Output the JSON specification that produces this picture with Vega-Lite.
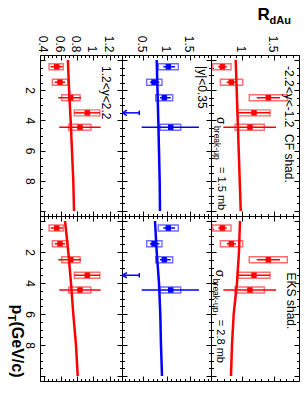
{
"$schema": "https://vega.github.io/schema/vega-lite/v6.json",
"background": "white",
"padding": {"left": 5, "top": 5, "right": 0, "bottom": 0},
"bounds": "flush",
"spacing": 0,
"align": "each",
"columns": 3,
"config": {
 "font": "Liberation Sans",
 "view": {"stroke": null},
 "axis": {"grid": false, "domainColor": "black", "domainWidth": 1, "tickColor": "black", "tickWidth": 1, "labelColor": "black", "labelFont": "Liberation Sans", "labelFontSize": 12, "labelOverlap": false, "labelFlush": false, "labelBound": false, "titleColor": "black", "titleFont": "Liberation Sans"},
 "text": {"font": "Liberation Sans", "color": "black"}
},
"datasets": {
 "pts": [
  {"rap": "fwd", "pT": 0.45, "R": 0.554, "statLo": 0.48, "statHi": 0.627, "sysLo": 0.46, "sysHi": 0.634},
  {"rap": "fwd", "pT": 1.47, "R": 0.594, "statLo": 0.53, "statHi": 0.655, "sysLo": 0.50, "sysHi": 0.688},
  {"rap": "fwd", "pT": 2.5, "R": 0.724, "statLo": 0.573, "statHi": 0.85, "sysLo": 0.615, "sysHi": 0.838},
  {"rap": "fwd", "pT": 3.5, "R": 0.927, "statLo": 0.77, "statHi": 1.08, "sysLo": 0.768, "sysHi": 1.08},
  {"rap": "fwd", "pT": 4.45, "R": 0.838, "statLo": 0.585, "statHi": 1.09, "sysLo": 0.70, "sysHi": 0.97},
  {"rap": "mid", "pT": 0.45, "R": 1.039, "statLo": 0.931, "statHi": 1.183, "sysLo": 0.823, "sysHi": 1.255},
  {"rap": "mid", "pT": 1.47, "R": 0.73, "statLo": 0.644, "statHi": 0.845, "sysLo": 0.573, "sysHi": 0.903},
  {"rap": "mid", "pT": 2.5, "R": 0.953, "statLo": 0.86, "statHi": 1.09, "sysLo": 0.767, "sysHi": 1.134},
  {"rap": "mid", "pT": 4.45, "R": 1.091, "statLo": 0.465, "statHi": 1.70, "sysLo": 0.86, "sysHi": 1.306},
  {"rap": "bwd", "pT": 0.45, "R": 0.68, "statLo": 0.616, "statHi": 0.75, "sysLo": 0.527, "sysHi": 0.818},
  {"rap": "bwd", "pT": 1.47, "R": 0.823, "statLo": 0.75, "statHi": 0.898, "sysLo": 0.648, "sysHi": 1.004},
  {"rap": "bwd", "pT": 2.5, "R": 1.412, "statLo": 1.227, "statHi": 1.598, "sysLo": 1.109, "sysHi": 1.714},
  {"rap": "bwd", "pT": 3.5, "R": 1.184, "statLo": 0.92, "statHi": 1.44, "sysLo": 0.918, "sysHi": 1.439},
  {"rap": "bwd", "pT": 4.45, "R": 1.12, "statLo": 0.696, "statHi": 1.534, "sysLo": 0.882, "sysHi": 1.348}
 ],
 "limits": [
  {"rap": "mid", "pT": 3.5, "ul": 0.413, "tip": 0.05}
 ],
 "curves": [
  {"rap": "fwd", "model": "CF", "pT": 0, "R": 0.69},
  {"rap": "fwd", "model": "CF", "pT": 2, "R": 0.705},
  {"rap": "fwd", "model": "CF", "pT": 4, "R": 0.724},
  {"rap": "fwd", "model": "CF", "pT": 6, "R": 0.74},
  {"rap": "fwd", "model": "CF", "pT": 8, "R": 0.756},
  {"rap": "fwd", "model": "CF", "pT": 10, "R": 0.765},
  {"rap": "fwd", "model": "EKS", "pT": 0, "R": 0.655},
  {"rap": "fwd", "model": "EKS", "pT": 2, "R": 0.695},
  {"rap": "fwd", "model": "EKS", "pT": 4, "R": 0.728},
  {"rap": "fwd", "model": "EKS", "pT": 6, "R": 0.756},
  {"rap": "fwd", "model": "EKS", "pT": 8, "R": 0.789},
  {"rap": "fwd", "model": "EKS", "pT": 10, "R": 0.81},
  {"rap": "mid", "model": "CF", "pT": 0, "R": 0.789},
  {"rap": "mid", "model": "CF", "pT": 2, "R": 0.806},
  {"rap": "mid", "model": "CF", "pT": 4, "R": 0.823},
  {"rap": "mid", "model": "CF", "pT": 6, "R": 0.838},
  {"rap": "mid", "model": "CF", "pT": 8, "R": 0.853},
  {"rap": "mid", "model": "CF", "pT": 10, "R": 0.86},
  {"rap": "mid", "model": "EKS", "pT": 0, "R": 0.752},
  {"rap": "mid", "model": "EKS", "pT": 2, "R": 0.789},
  {"rap": "mid", "model": "EKS", "pT": 4, "R": 0.838},
  {"rap": "mid", "model": "EKS", "pT": 6, "R": 0.866},
  {"rap": "mid", "model": "EKS", "pT": 8, "R": 0.881},
  {"rap": "mid", "model": "EKS", "pT": 10, "R": 0.903},
  {"rap": "bwd", "model": "CF", "pT": 0, "R": 0.893},
  {"rap": "bwd", "model": "CF", "pT": 2, "R": 0.909},
  {"rap": "bwd", "model": "CF", "pT": 4, "R": 0.925},
  {"rap": "bwd", "model": "CF", "pT": 6, "R": 0.941},
  {"rap": "bwd", "model": "CF", "pT": 8, "R": 0.957},
  {"rap": "bwd", "model": "CF", "pT": 10, "R": 0.973},
  {"rap": "bwd", "model": "EKS", "pT": 0, "R": 0.961},
  {"rap": "bwd", "model": "EKS", "pT": 2, "R": 0.945},
  {"rap": "bwd", "model": "EKS", "pT": 4, "R": 0.914},
  {"rap": "bwd", "model": "EKS", "pT": 6, "R": 0.861},
  {"rap": "bwd", "model": "EKS", "pT": 8, "R": 0.834},
  {"rap": "bwd", "model": "EKS", "pT": 10, "R": 0.818}
 ]
},
"concat": [
  {"width": 82, "height": 161,
   "resolve": {"axis": {"x": "independent", "y": "independent"}},
   "layer": [
    {"data": {"name": "pts"}, "transform": [{"filter": "datum.rap=='fwd'"}],
     "mark": {"type": "bar", "orient": "horizontal", "size": 6, "fillOpacity": 0, "stroke": "#ff6f6f", "strokeWidth": 1.4},
     "encoding": {
      "x": {"field": "sysLo", "type": "quantitative", "scale": {"domain": [0.35, 1.35], "nice": false, "zero": false},
            "axis": {"orient": "top", "values": [0.35,0.4,0.45,0.5,0.55,0.6,0.65,0.7,0.75,0.8,0.85,0.9,0.95,1,1.05,1.1,1.15,1.2,1.25,1.3,1.35], "format": "~g", "labelExpr": "abs(datum.value*5-round(datum.value*5))<1e-6 ? datum.label : ''", "tickSize": {"condition": {"test": "abs(datum.value*5-round(datum.value*5))<1e-6", "value": -5}, "value": -2.5}, "labelAngle": 90, "labelAlign": "right", "labelBaseline": "middle", "labelPadding": 8, "labelOffset": -1.5, "title": null}},
      "x2": {"field": "sysHi"},
      "y": {"field": "pT", "type": "quantitative", "scale": {"domain": [0, 10], "nice": false, "zero": false, "reverse": true},
            "axis": {"orient": "left", "values": [0,0.5,1,1.5,2,2.5,3,3.5,4,4.5,5,5.5,6,6.5,7,7.5,8,8.5,9,9.5,10], "format": "~g", "labelExpr": "datum.value%2==0 && datum.value>0 && datum.value<10 ? datum.label : ''", "tickSize": {"condition": {"test": "datum.value%2==0", "value": -5}, "value": -2.5}, "labelAngle": 90, "labelAlign": "center", "labelBaseline": "top", "labelPadding": 11, "title": null}}
     }},
    {"data": {"name": "pts"}, "transform": [{"filter": "datum.rap=='fwd'"}],
     "mark": {"type": "rule", "color": "#ff0000", "strokeWidth": 1.5},
     "encoding": {
      "x": {"field": "statLo", "type": "quantitative", "axis": {"orient": "bottom", "values": [0.35,0.4,0.45,0.5,0.55,0.6,0.65,0.7,0.75,0.8,0.85,0.9,0.95,1,1.05,1.1,1.15,1.2,1.25,1.3,1.35], "labels": false, "tickSize": {"condition": {"test": "abs(datum.value*5-round(datum.value*5))<1e-6", "value": -5}, "value": -2.5}, "title": null}},
      "x2": {"field": "statHi"},
      "y": {"field": "pT", "type": "quantitative", "axis": {"orient": "right", "values": [0,0.5,1,1.5,2,2.5,3,3.5,4,4.5,5,5.5,6,6.5,7,7.5,8,8.5,9,9.5,10], "labels": false, "tickSize": {"condition": {"test": "datum.value%2==0", "value": -5}, "value": -2.5}, "title": null}}
     }},
    {"data": {"name": "pts"}, "transform": [{"filter": "datum.rap=='fwd'"}],
     "mark": {"type": "point", "shape": "square", "filled": true, "size": 30, "color": "#ff0000", "opacity": 1},
     "encoding": {"x": {"field": "R", "type": "quantitative", "axis": null}, "y": {"field": "pT", "type": "quantitative", "axis": null}}},
    {"data": {"name": "curves"}, "transform": [{"filter": "datum.rap=='fwd' && datum.model=='CF'"}],
     "mark": {"type": "line", "color": "#ff0000", "strokeWidth": 2.5},
     "encoding": {"x": {"field": "R", "type": "quantitative", "axis": null}, "y": {"field": "pT", "type": "quantitative", "axis": null}, "order": {"field": "pT"}}},
    {"data": {"values": [{}]},
     "mark": {"type": "text", "text": "1.2<y<2.2", "angle": 90, "align": "left", "baseline": "middle", "fontSize": 12},
     "encoding": {"x": {"datum": 1.155, "type": "quantitative", "axis": null}, "y": {"datum": 0.4, "type": "quantitative", "axis": null}}}
   ]},
  {"width": 89, "height": 161,
   "resolve": {"axis": {"x": "independent", "y": "independent"}},
   "layer": [
    {"data": {"name": "pts"}, "transform": [{"filter": "datum.rap=='mid'"}],
     "mark": {"type": "bar", "orient": "horizontal", "size": 6, "fillOpacity": 0, "stroke": "#6f6fff", "strokeWidth": 1.4},
     "encoding": {
      "x": {"field": "sysLo", "type": "quantitative", "scale": {"domain": [0.04, 1.96], "nice": false, "zero": false},
            "axis": {"orient": "top", "values": [0.1,0.2,0.3,0.4,0.5,0.6,0.7,0.8,0.9,1,1.1,1.2,1.3,1.4,1.5,1.6,1.7,1.8,1.9], "format": "~g", "labelExpr": "abs(datum.value*2-round(datum.value*2))<1e-6 ? datum.label : ''", "tickSize": {"condition": {"test": "abs(datum.value*2-round(datum.value*2))<1e-6", "value": -5}, "value": -2.5}, "labelAngle": 90, "labelAlign": "right", "labelBaseline": "middle", "labelPadding": 8, "labelOffset": -1.5, "title": null}},
      "x2": {"field": "sysHi"},
      "y": {"field": "pT", "type": "quantitative", "scale": {"domain": [0, 10], "nice": false, "zero": false, "reverse": true},
            "axis": {"orient": "left", "values": [0,0.5,1,1.5,2,2.5,3,3.5,4,4.5,5,5.5,6,6.5,7,7.5,8,8.5,9,9.5,10], "labels": false, "tickSize": {"condition": {"test": "datum.value%2==0", "value": -5}, "value": -2.5}, "title": null}}
     }},
    {"data": {"name": "pts"}, "transform": [{"filter": "datum.rap=='mid'"}],
     "mark": {"type": "rule", "color": "#0000ff", "strokeWidth": 1.5},
     "encoding": {
      "x": {"field": "statLo", "type": "quantitative", "axis": {"orient": "bottom", "values": [0.1,0.2,0.3,0.4,0.5,0.6,0.7,0.8,0.9,1,1.1,1.2,1.3,1.4,1.5,1.6,1.7,1.8,1.9], "labels": false, "tickSize": {"condition": {"test": "abs(datum.value*2-round(datum.value*2))<1e-6", "value": -5}, "value": -2.5}, "title": null}},
      "x2": {"field": "statHi"},
      "y": {"field": "pT", "type": "quantitative", "axis": {"orient": "right", "values": [0,0.5,1,1.5,2,2.5,3,3.5,4,4.5,5,5.5,6,6.5,7,7.5,8,8.5,9,9.5,10], "labels": false, "tickSize": {"condition": {"test": "datum.value%2==0", "value": -5}, "value": -2.5}, "title": null}}
     }},
    {"data": {"name": "pts"}, "transform": [{"filter": "datum.rap=='mid'"}],
     "mark": {"type": "point", "shape": "square", "filled": true, "size": 30, "color": "#0000ff", "opacity": 1},
     "encoding": {"x": {"field": "R", "type": "quantitative", "axis": null}, "y": {"field": "pT", "type": "quantitative", "axis": null}}},
    {"data": {"name": "limits"},
     "mark": {"type": "rule", "color": "#0000ff", "strokeWidth": 1.5},
     "encoding": {"x": {"field": "tip", "type": "quantitative", "axis": null}, "x2": {"field": "ul"}, "y": {"field": "pT", "type": "quantitative", "axis": null}}},
    {"data": {"name": "limits"},
     "mark": {"type": "point", "shape": "M0,0L2,-1.2M0,0L2,1.2", "filled": false, "size": 20, "color": "#0000ff", "strokeWidth": 1.5, "opacity": 1},
     "encoding": {"x": {"field": "tip", "type": "quantitative", "axis": null}, "y": {"field": "pT", "type": "quantitative", "axis": null}}},
    {"data": {"name": "limits"},
     "mark": {"type": "point", "shape": "M0,-1L0,1", "filled": false, "size": 20, "color": "#0000ff", "strokeWidth": 1.5, "opacity": 1},
     "encoding": {"x": {"field": "ul", "type": "quantitative", "axis": null}, "y": {"field": "pT", "type": "quantitative", "axis": null}}},
    {"data": {"name": "curves"}, "transform": [{"filter": "datum.rap=='mid' && datum.model=='CF'"}],
     "mark": {"type": "line", "color": "#0000ff", "strokeWidth": 2.5},
     "encoding": {"x": {"field": "R", "type": "quantitative", "axis": null}, "y": {"field": "pT", "type": "quantitative", "axis": null}, "order": {"field": "pT"}}},
    {"data": {"values": [{}]},
     "mark": {"type": "text", "text": "|y|<0.35", "angle": 90, "align": "left", "baseline": "middle", "fontSize": 12},
     "encoding": {"x": {"datum": 1.766, "type": "quantitative", "axis": null}, "y": {"datum": 0.4, "type": "quantitative", "axis": null}}}
   ]},
  {"width": 88, "height": 161,
   "resolve": {"axis": {"x": "independent", "y": "independent"}},
   "layer": [
    {"data": {"name": "pts"}, "transform": [{"filter": "datum.rap=='bwd'"}],
     "mark": {"type": "bar", "orient": "horizontal", "size": 6, "fillOpacity": 0, "stroke": "#ff6f6f", "strokeWidth": 1.4},
     "encoding": {
      "x": {"field": "sysLo", "type": "quantitative", "scale": {"domain": [0.5, 1.9], "nice": false, "zero": false},
            "axis": {"orient": "top", "values": [0.5,0.6,0.7,0.8,0.9,1,1.1,1.2,1.3,1.4,1.5,1.6,1.7,1.8,1.9], "format": "~g", "labelExpr": "abs(datum.value*2-round(datum.value*2))<1e-6 && datum.value>0.6 ? datum.label : ''", "tickSize": {"condition": {"test": "abs(datum.value*2-round(datum.value*2))<1e-6", "value": -5}, "value": -2.5}, "labelAngle": 90, "labelAlign": "right", "labelBaseline": "middle", "labelPadding": 8, "labelOffset": -1.5,
                     "title": "R", "titleAngle": 0, "titleX": 46, "titleY": -35.5, "titleAlign": "left", "titleBaseline": "alphabetic", "titleFontSize": 17, "titleFontWeight": "bold"}},
      "x2": {"field": "sysHi"},
      "y": {"field": "pT", "type": "quantitative", "scale": {"domain": [0, 10], "nice": false, "zero": false, "reverse": true},
            "axis": {"orient": "left", "values": [0,0.5,1,1.5,2,2.5,3,3.5,4,4.5,5,5.5,6,6.5,7,7.5,8,8.5,9,9.5,10], "labels": false, "tickSize": {"condition": {"test": "datum.value%2==0", "value": -5}, "value": -2.5}, "title": null}}
     }},
    {"data": {"name": "pts"}, "transform": [{"filter": "datum.rap=='bwd'"}],
     "mark": {"type": "rule", "color": "#ff0000", "strokeWidth": 1.5},
     "encoding": {
      "x": {"field": "statLo", "type": "quantitative", "axis": {"orient": "bottom", "values": [0.5,0.6,0.7,0.8,0.9,1,1.1,1.2,1.3,1.4,1.5,1.6,1.7,1.8,1.9], "labels": false, "tickSize": {"condition": {"test": "abs(datum.value*2-round(datum.value*2))<1e-6", "value": -5}, "value": -2.5}, "title": null}},
      "x2": {"field": "statHi"},
      "y": {"field": "pT", "type": "quantitative", "axis": {"orient": "right", "values": [0,0.5,1,1.5,2,2.5,3,3.5,4,4.5,5,5.5,6,6.5,7,7.5,8,8.5,9,9.5,10], "labels": false, "tickSize": {"condition": {"test": "datum.value%2==0", "value": -5}, "value": -2.5},
                     "title": "dAu", "titleAngle": 0, "titleX": -30, "titleY": -31.5, "titleAlign": "left", "titleBaseline": "alphabetic", "titleFontSize": 11, "titleFontWeight": "bold"}}
     }},
    {"data": {"name": "pts"}, "transform": [{"filter": "datum.rap=='bwd'"}],
     "mark": {"type": "point", "shape": "square", "filled": true, "size": 30, "color": "#ff0000", "opacity": 1},
     "encoding": {"x": {"field": "R", "type": "quantitative", "axis": null}, "y": {"field": "pT", "type": "quantitative", "axis": null}}},
    {"data": {"name": "curves"}, "transform": [{"filter": "datum.rap=='bwd' && datum.model=='CF'"}],
     "mark": {"type": "line", "color": "#ff0000", "strokeWidth": 2.5},
     "encoding": {"x": {"field": "R", "type": "quantitative", "axis": null}, "y": {"field": "pT", "type": "quantitative", "axis": null}, "order": {"field": "pT"}}},
    {"data": {"values": [{}]},
     "mark": {"type": "text", "text": "-2.2<y<-1.2\u00a0\u00a0CF shad.", "angle": 90, "align": "left", "baseline": "middle", "fontSize": 12},
     "encoding": {"x": {"datum": 1.741, "type": "quantitative", "axis": null}, "y": {"datum": 0.4, "type": "quantitative", "axis": null}}},
    {"data": {"values": [{}]},
     "mark": {"type": "text", "text": "σ", "angle": 90, "align": "left", "baseline": "middle", "fontSize": 12},
     "encoding": {"x": {"datum": 0.659, "type": "quantitative", "axis": null}, "y": {"datum": 3.78, "type": "quantitative", "axis": null}}},
    {"data": {"values": [{}]},
     "mark": {"type": "text", "text": "break-up", "angle": 90, "align": "left", "baseline": "middle", "fontSize": 8.5, "dx": 9, "dy": 4},
     "encoding": {"x": {"datum": 0.659, "type": "quantitative", "axis": null}, "y": {"datum": 3.78, "type": "quantitative", "axis": null}}},
    {"data": {"values": [{}]},
     "mark": {"type": "text", "text": "= 1.5 mb", "angle": 90, "align": "left", "baseline": "middle", "fontSize": 11, "dx": 50},
     "encoding": {"x": {"datum": 0.659, "type": "quantitative", "axis": null}, "y": {"datum": 3.78, "type": "quantitative", "axis": null}}}
   ]},
  {"width": 82, "height": 165,
   "resolve": {"axis": {"x": "independent", "y": "independent"}},
   "layer": [
    {"data": {"name": "pts"}, "transform": [{"filter": "datum.rap=='fwd'"}],
     "mark": {"type": "bar", "orient": "horizontal", "size": 6, "fillOpacity": 0, "stroke": "#ff6f6f", "strokeWidth": 1.4},
     "encoding": {
      "x": {"field": "sysLo", "type": "quantitative", "scale": {"domain": [0.35, 1.35], "nice": false, "zero": false},
            "axis": {"orient": "top", "values": [0.35,0.4,0.45,0.5,0.55,0.6,0.65,0.7,0.75,0.8,0.85,0.9,0.95,1,1.05,1.1,1.15,1.2,1.25,1.3,1.35], "labels": false, "tickSize": {"condition": {"test": "abs(datum.value*5-round(datum.value*5))<1e-6", "value": -5}, "value": -2.5},
                     "title": "(GeV/c)", "titleAngle": 90, "titleX": -28.5, "titleY": 105, "titleAlign": "left", "titleBaseline": "alphabetic", "titleFontSize": 16, "titleFontWeight": "bold"}},
      "x2": {"field": "sysHi"},
      "y": {"field": "pT", "type": "quantitative", "scale": {"domain": [0, 10], "nice": false, "zero": false, "reverse": true},
            "axis": {"orient": "left", "values": [0,0.5,1,1.5,2,2.5,3,3.5,4,4.5,5,5.5,6,6.5,7,7.5,8,8.5,9,9.5,10], "format": "~g", "labelExpr": "datum.value%2==0 && datum.value>0 && datum.value<10 ? datum.label : ''", "tickSize": {"condition": {"test": "datum.value%2==0", "value": -5}, "value": -2.5}, "labelAngle": 90, "labelAlign": "center", "labelBaseline": "top", "labelPadding": 11,
                     "title": "p", "titleAngle": 90, "titleX": -28.5, "titleY": 88, "titleAlign": "left", "titleBaseline": "alphabetic", "titleFontSize": 16, "titleFontWeight": "bold"}}
     }},
    {"data": {"name": "pts"}, "transform": [{"filter": "datum.rap=='fwd'"}],
     "mark": {"type": "rule", "color": "#ff0000", "strokeWidth": 1.5},
     "encoding": {
      "x": {"field": "statLo", "type": "quantitative", "axis": {"orient": "bottom", "values": [0.35,0.4,0.45,0.5,0.55,0.6,0.65,0.7,0.75,0.8,0.85,0.9,0.95,1,1.05,1.1,1.15,1.2,1.25,1.3,1.35], "labels": false, "tickSize": {"condition": {"test": "abs(datum.value*5-round(datum.value*5))<1e-6", "value": -5}, "value": -2.5},
                     "title": "T", "titleAngle": 90, "titleX": -32.5, "titleY": -67, "titleAlign": "left", "titleBaseline": "alphabetic", "titleFontSize": 11, "titleFontWeight": "bold"}},
      "x2": {"field": "statHi"},
      "y": {"field": "pT", "type": "quantitative", "axis": {"orient": "right", "values": [0,0.5,1,1.5,2,2.5,3,3.5,4,4.5,5,5.5,6,6.5,7,7.5,8,8.5,9,9.5,10], "labels": false, "tickSize": {"condition": {"test": "datum.value%2==0", "value": -5}, "value": -2.5}, "title": null}}
     }},
    {"data": {"name": "pts"}, "transform": [{"filter": "datum.rap=='fwd'"}],
     "mark": {"type": "point", "shape": "square", "filled": true, "size": 30, "color": "#ff0000", "opacity": 1},
     "encoding": {"x": {"field": "R", "type": "quantitative", "axis": null}, "y": {"field": "pT", "type": "quantitative", "axis": null}}},
    {"data": {"name": "curves"}, "transform": [{"filter": "datum.rap=='fwd' && datum.model=='EKS'"}],
     "mark": {"type": "line", "color": "#ff0000", "strokeWidth": 2.5},
     "encoding": {"x": {"field": "R", "type": "quantitative", "axis": null}, "y": {"field": "pT", "type": "quantitative", "axis": null}, "order": {"field": "pT"}}}
   ]},
  {"width": 89, "height": 165,
   "resolve": {"axis": {"x": "independent", "y": "independent"}},
   "layer": [
    {"data": {"name": "pts"}, "transform": [{"filter": "datum.rap=='mid'"}],
     "mark": {"type": "bar", "orient": "horizontal", "size": 6, "fillOpacity": 0, "stroke": "#6f6fff", "strokeWidth": 1.4},
     "encoding": {
      "x": {"field": "sysLo", "type": "quantitative", "scale": {"domain": [0.04, 1.96], "nice": false, "zero": false},
            "axis": {"orient": "top", "values": [0.1,0.2,0.3,0.4,0.5,0.6,0.7,0.8,0.9,1,1.1,1.2,1.3,1.4,1.5,1.6,1.7,1.8,1.9], "labels": false, "tickSize": {"condition": {"test": "abs(datum.value*2-round(datum.value*2))<1e-6", "value": -5}, "value": -2.5}, "title": null}},
      "x2": {"field": "sysHi"},
      "y": {"field": "pT", "type": "quantitative", "scale": {"domain": [0, 10], "nice": false, "zero": false, "reverse": true},
            "axis": {"orient": "left", "values": [0,0.5,1,1.5,2,2.5,3,3.5,4,4.5,5,5.5,6,6.5,7,7.5,8,8.5,9,9.5,10], "labels": false, "tickSize": {"condition": {"test": "datum.value%2==0", "value": -5}, "value": -2.5}, "title": null}}
     }},
    {"data": {"name": "pts"}, "transform": [{"filter": "datum.rap=='mid'"}],
     "mark": {"type": "rule", "color": "#0000ff", "strokeWidth": 1.5},
     "encoding": {
      "x": {"field": "statLo", "type": "quantitative", "axis": {"orient": "bottom", "values": [0.1,0.2,0.3,0.4,0.5,0.6,0.7,0.8,0.9,1,1.1,1.2,1.3,1.4,1.5,1.6,1.7,1.8,1.9], "labels": false, "tickSize": {"condition": {"test": "abs(datum.value*2-round(datum.value*2))<1e-6", "value": -5}, "value": -2.5}, "title": null}},
      "x2": {"field": "statHi"},
      "y": {"field": "pT", "type": "quantitative", "axis": {"orient": "right", "values": [0,0.5,1,1.5,2,2.5,3,3.5,4,4.5,5,5.5,6,6.5,7,7.5,8,8.5,9,9.5,10], "labels": false, "tickSize": {"condition": {"test": "datum.value%2==0", "value": -5}, "value": -2.5}, "title": null}}
     }},
    {"data": {"name": "pts"}, "transform": [{"filter": "datum.rap=='mid'"}],
     "mark": {"type": "point", "shape": "square", "filled": true, "size": 30, "color": "#0000ff", "opacity": 1},
     "encoding": {"x": {"field": "R", "type": "quantitative", "axis": null}, "y": {"field": "pT", "type": "quantitative", "axis": null}}},
    {"data": {"name": "limits"},
     "mark": {"type": "rule", "color": "#0000ff", "strokeWidth": 1.5},
     "encoding": {"x": {"field": "tip", "type": "quantitative", "axis": null}, "x2": {"field": "ul"}, "y": {"field": "pT", "type": "quantitative", "axis": null}}},
    {"data": {"name": "limits"},
     "mark": {"type": "point", "shape": "M0,0L2,-1.2M0,0L2,1.2", "filled": false, "size": 20, "color": "#0000ff", "strokeWidth": 1.5, "opacity": 1},
     "encoding": {"x": {"field": "tip", "type": "quantitative", "axis": null}, "y": {"field": "pT", "type": "quantitative", "axis": null}}},
    {"data": {"name": "limits"},
     "mark": {"type": "point", "shape": "M0,-1L0,1", "filled": false, "size": 20, "color": "#0000ff", "strokeWidth": 1.5, "opacity": 1},
     "encoding": {"x": {"field": "ul", "type": "quantitative", "axis": null}, "y": {"field": "pT", "type": "quantitative", "axis": null}}},
    {"data": {"name": "curves"}, "transform": [{"filter": "datum.rap=='mid' && datum.model=='EKS'"}],
     "mark": {"type": "line", "color": "#0000ff", "strokeWidth": 2.5},
     "encoding": {"x": {"field": "R", "type": "quantitative", "axis": null}, "y": {"field": "pT", "type": "quantitative", "axis": null}, "order": {"field": "pT"}}}
   ]},
  {"width": 88, "height": 165,
   "resolve": {"axis": {"x": "independent", "y": "independent"}},
   "layer": [
    {"data": {"name": "pts"}, "transform": [{"filter": "datum.rap=='bwd'"}],
     "mark": {"type": "bar", "orient": "horizontal", "size": 6, "fillOpacity": 0, "stroke": "#ff6f6f", "strokeWidth": 1.4},
     "encoding": {
      "x": {"field": "sysLo", "type": "quantitative", "scale": {"domain": [0.5, 1.9], "nice": false, "zero": false},
            "axis": {"orient": "top", "values": [0.5,0.6,0.7,0.8,0.9,1,1.1,1.2,1.3,1.4,1.5,1.6,1.7,1.8,1.9], "labels": false, "tickSize": {"condition": {"test": "abs(datum.value*2-round(datum.value*2))<1e-6", "value": -5}, "value": -2.5}, "title": null}},
      "x2": {"field": "sysHi"},
      "y": {"field": "pT", "type": "quantitative", "scale": {"domain": [0, 10], "nice": false, "zero": false, "reverse": true},
            "axis": {"orient": "left", "values": [0,0.5,1,1.5,2,2.5,3,3.5,4,4.5,5,5.5,6,6.5,7,7.5,8,8.5,9,9.5,10], "labels": false, "tickSize": {"condition": {"test": "datum.value%2==0", "value": -5}, "value": -2.5}, "title": null}}
     }},
    {"data": {"name": "pts"}, "transform": [{"filter": "datum.rap=='bwd'"}],
     "mark": {"type": "rule", "color": "#ff0000", "strokeWidth": 1.5},
     "encoding": {
      "x": {"field": "statLo", "type": "quantitative", "axis": {"orient": "bottom", "values": [0.5,0.6,0.7,0.8,0.9,1,1.1,1.2,1.3,1.4,1.5,1.6,1.7,1.8,1.9], "labels": false, "tickSize": {"condition": {"test": "abs(datum.value*2-round(datum.value*2))<1e-6", "value": -5}, "value": -2.5}, "title": null}},
      "x2": {"field": "statHi"},
      "y": {"field": "pT", "type": "quantitative", "axis": {"orient": "right", "values": [0,0.5,1,1.5,2,2.5,3,3.5,4,4.5,5,5.5,6,6.5,7,7.5,8,8.5,9,9.5,10], "labels": false, "tickSize": {"condition": {"test": "datum.value%2==0", "value": -5}, "value": -2.5}, "title": null}}
     }},
    {"data": {"name": "pts"}, "transform": [{"filter": "datum.rap=='bwd'"}],
     "mark": {"type": "point", "shape": "square", "filled": true, "size": 30, "color": "#ff0000", "opacity": 1},
     "encoding": {"x": {"field": "R", "type": "quantitative", "axis": null}, "y": {"field": "pT", "type": "quantitative", "axis": null}}},
    {"data": {"name": "curves"}, "transform": [{"filter": "datum.rap=='bwd' && datum.model=='EKS'"}],
     "mark": {"type": "line", "color": "#ff0000", "strokeWidth": 2.5},
     "encoding": {"x": {"field": "R", "type": "quantitative", "axis": null}, "y": {"field": "pT", "type": "quantitative", "axis": null}, "order": {"field": "pT"}}},
    {"data": {"values": [{}]},
     "mark": {"type": "text", "text": "EKS shad.", "angle": 90, "align": "left", "baseline": "middle", "fontSize": 12},
     "encoding": {"x": {"datum": 1.773, "type": "quantitative", "axis": null}, "y": {"datum": 3.33, "type": "quantitative", "axis": null}}},
    {"data": {"values": [{}]},
     "mark": {"type": "text", "text": "σ", "angle": 90, "align": "left", "baseline": "middle", "fontSize": 12},
     "encoding": {"x": {"datum": 0.643, "type": "quantitative", "axis": null}, "y": {"datum": 3.15, "type": "quantitative", "axis": null}}},
    {"data": {"values": [{}]},
     "mark": {"type": "text", "text": "break-up", "angle": 90, "align": "left", "baseline": "middle", "fontSize": 8.5, "dx": 9, "dy": 4},
     "encoding": {"x": {"datum": 0.643, "type": "quantitative", "axis": null}, "y": {"datum": 3.15, "type": "quantitative", "axis": null}}},
    {"data": {"values": [{}]},
     "mark": {"type": "text", "text": "= 2.8 mb", "angle": 90, "align": "left", "baseline": "middle", "fontSize": 11, "dx": 50},
     "encoding": {"x": {"datum": 0.643, "type": "quantitative", "axis": null}, "y": {"datum": 3.15, "type": "quantitative", "axis": null}}}
   ]}
]
}
